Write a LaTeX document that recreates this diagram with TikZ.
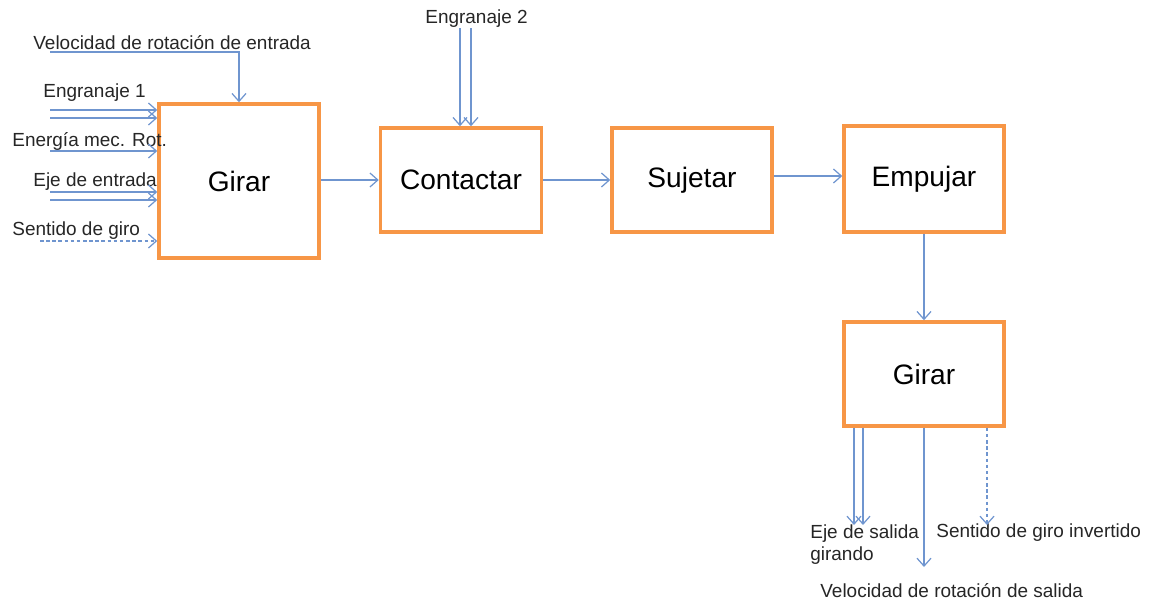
\documentclass[tikz,border=0pt]{standalone}
\usepackage{fontspec}
\setmainfont{Liberation Sans}
\usepackage{tikz}
\usepackage{xcolor}
\usetikzlibrary{arrows.meta}
\definecolor{naranja}{HTML}{F79646}
\definecolor{azul}{HTML}{6F95CF}

\begin{document}
\begin{tikzpicture}[x=0.02cm,y=-0.02cm]%
  \tikzstyle{funcion}=[rectangle,draw=naranja,line width=2pt,fill=white,inner sep=0,font=\fontsize{16}{19}\selectfont]
  \tikzstyle{flujo}=[draw=azul,line width=0.7pt,-{Straight Barb[length=4.5pt,width=8pt]}]
  \tikzstyle{senal}=[flujo,dash pattern=on 2pt off 1.5pt]
  \tikzstyle{etiq}=[inner sep=0,anchor=west,text=black!85,font=\fontsize{10.8}{13}\selectfont]
  \useasboundingbox (0,0) rectangle (1156,602);
  % bloques
  \node(girar1)[funcion,minimum width=3.2cm,minimum height=3.08cm] at (239,181) {Girar};
  \node(contactar)[funcion,minimum width=3.22cm,minimum height=2.08cm] at (461,180) {Contactar};
  \node(sujetar)[funcion,minimum width=3.2cm,minimum height=2.08cm] at (692,180) {Sujetar};
  \node(empujar)[funcion,minimum width=3.2cm,minimum height=2.12cm] at (924,179) {Empujar};
  \node(girar2)[funcion,minimum width=3.2cm,minimum height=2.08cm] at (924,374) {Girar};
  % etiquetas
  \node(tvel)[etiq] at (33,43) {Velocidad de rotación de entrada};
  \node(teng1)[etiq] at (43,93) {Engranaje 1};
  \node(tener)[etiq] at (12,141) {Energía mec. Rot.};
  \node(teje)[etiq] at (33,182) {Eje de entrada};
  \node(tsen)[etiq] at (12,231) {Sentido de giro};
  \node(teng2)[etiq] at (425,19) {Engranaje 2};
  \node(tsal)[etiq,anchor=north west,align=left] at (810,524) {Eje de salida\\girando};
  \node(tinv)[etiq] at (936,533) {Sentido de giro invertido};
  \node(tvsal)[etiq] at (820,591) {Velocidad de rotación de salida};
  % extremos libres
  \coordinate(ve) at (50,52);
  \coordinate(ea) at (50,110);
  \coordinate(eb) at (50,118);
  \coordinate(en) at (50,151);
  \coordinate(ja) at (50,192);
  \coordinate(jb) at (50,200);
  \coordinate(sg) at (40,241);
  \coordinate(ga) at (460,28);
  \coordinate(gb) at (471,28);
  \coordinate(sa) at (854,525);
  \coordinate(sb) at (863,525);
  \coordinate(sv) at (924,567);
  \coordinate(si) at (987,525);
  \coordinate(se) at ([yshift=0.08cm]sujetar.east);
  % entradas
  \draw[flujo] (ve) -| (girar1.north);
  \draw[flujo] (ea) -- (ea -| girar1.west);
  \draw[flujo] (eb) -- (eb -| girar1.west);
  \draw[flujo] (en) -- (en -| girar1.west);
  \draw[flujo] (ja) -- (ja -| girar1.west);
  \draw[flujo] (jb) -- (jb -| girar1.west);
  \draw[senal] (sg) -- (sg -| girar1.west);
  \draw[flujo] (ga) -- (ga |- contactar.north);
  \draw[flujo] (gb) -- (gb |- contactar.north);
  % cadena
  \draw[flujo] (girar1.east |- contactar) -- (contactar.west);
  \draw[flujo] (contactar.east) -- (sujetar.west);
  \draw[flujo] (se) -- (se -| empujar.west);
  \draw[flujo] (empujar.south) -- (girar2.north);
  % salidas
  \draw[flujo] (sa |- girar2.south) -- (sa);
  \draw[flujo] (sb |- girar2.south) -- (sb);
  \draw[flujo] (girar2.south) -- (sv);
  \draw[senal] (si |- girar2.south) -- (si);
\end{tikzpicture}
\end{document}
